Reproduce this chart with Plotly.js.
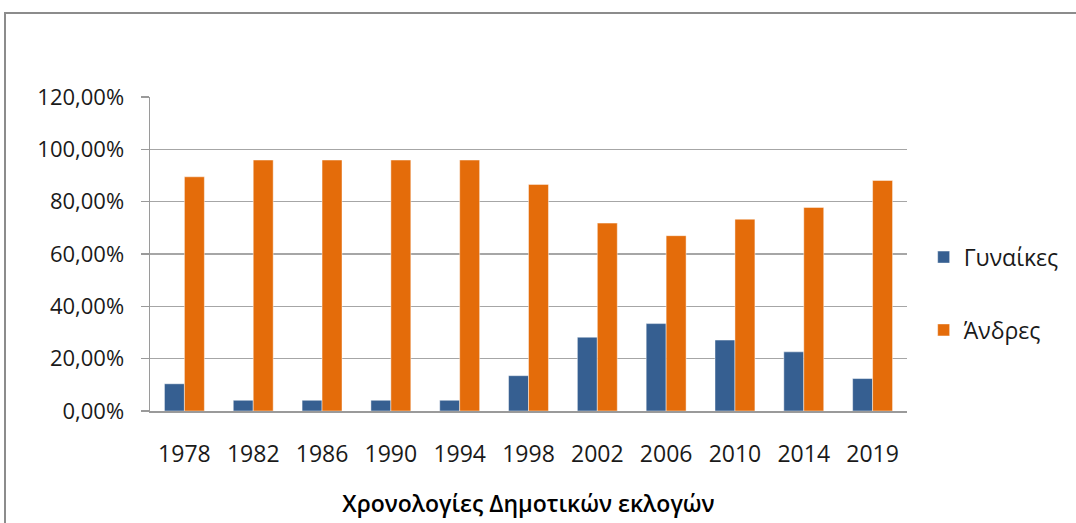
<!DOCTYPE html>
<html>
<head>
<meta charset="utf-8">
<script src="https://cdn.plot.ly/plotly-3.0.1.min.js"></script>
<style>
  html, body { margin:0; padding:0; background:#fff; overflow:hidden; }
  #wrap { position:relative; width:1076px; height:523px; }
  #chart { position:absolute; left:0; top:0; width:1076px; height:523px; }
  #frame { position:absolute; left:4px; top:12px; width:1090px; height:540px; border:2px solid #8c8c8c; pointer-events:none; box-sizing:border-box; }
</style>
</head>
<body>
<div id="wrap">
  <div id="chart"></div>
  <div id="frame"></div>
</div>
<script>
const years = ["1978","1982","1986","1990","1994","1998","2002","2006","2010","2014","2019"];
const women = [10.4, 4.1, 4.1, 4.1, 4.1, 13.5, 28.2, 33.4, 27.1, 22.6, 12.4];
const men   = [89.5, 95.9, 95.9, 95.9, 95.9, 86.6, 71.8, 67.0, 73.3, 77.8, 88.1];
const yTicks = [0, 20, 40, 60, 80, 100, 120];
const seriesNames = ["Γυναίκες", "Άνδρες"];
const xTitle = "Χρονολογίες Δημοτικών εκλογών";

const yTickText = yTicks.map(v => v.toFixed(2).replace(".", ",") + "%");

const FONT = "Open Sans, Noto Sans, DejaVu Sans, sans-serif";

const traces = [
  { type:"bar", x:years, y:women, name:seriesNames[0], legend:"legend",
    marker:{ color:"#365F91", line:{ color:"rgba(255,255,255,0.45)", width:1 } } },
  { type:"bar", x:years, y:men, name:seriesNames[1], legend:"legend2",
    marker:{ color:"#E46C0A", line:{ color:"rgba(255,255,255,0.45)", width:1 } } }
];

const layout = {
  width:1076, height:523,
  margin:{ l:150, r:169, t:97, b:112 },
  paper_bgcolor:"#ffffff", plot_bgcolor:"#ffffff",
  barmode:"group", bargap:0.42, bargroupgap:0,
  font:{ family:FONT, color:"#1a1a1a", size:22 },
  showlegend:true,
  legend:{ x:1.022, xanchor:"left", y:0.49, yanchor:"middle", font:{ family:FONT, size:23, color:"#1a1a1a" }, bgcolor:"rgba(0,0,0,0)" },
  legend2:{ x:1.022, xanchor:"left", y:0.258, yanchor:"middle", font:{ family:FONT, size:23, color:"#1a1a1a" }, bgcolor:"rgba(0,0,0,0)" },
  xaxis:{
    type:"category",
    showline:true, linecolor:"#9a9a9a", linewidth:1.5,
    showgrid:false, ticks:"",
    tickfont:{ family:FONT, size:23, color:"#1a1a1a" },
    ticklabelstandoff:22,
    title:{ text:xTitle, font:{ family:FONT, size:23, color:"#000", weight:600 }, standoff:28 }
  },
  yaxis:{
    range:[0,120], tickmode:"array", tickvals:yTicks, ticktext:yTickText,
    showline:true, linecolor:"#9a9a9a", linewidth:1.5,
    showgrid:true, gridcolor:"#a6a6a6", gridwidth:1.5,
    ticks:"outside", ticklen:8, tickcolor:"#9a9a9a", tickwidth:1.5,
    ticklabelstandoff:12,
    tickfont:{ family:FONT, size:22, color:"#1a1a1a" },
    zeroline:false
  }
};

Plotly.newPlot("chart", traces, layout, { displayModeBar:false, staticPlot:true });
</script>
</body>
</html>
